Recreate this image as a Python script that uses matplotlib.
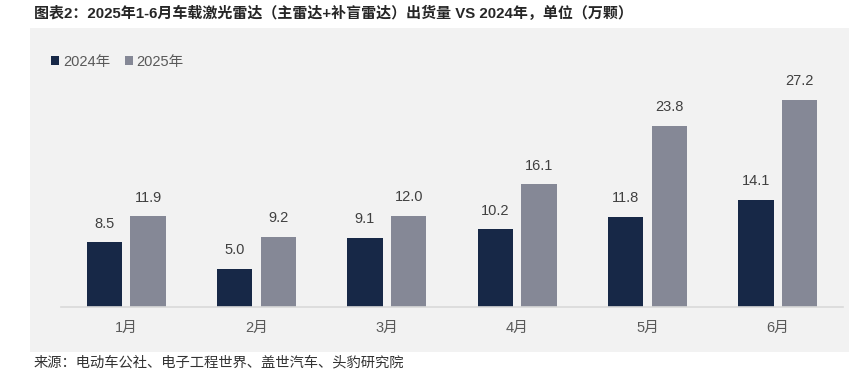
import numpy as np
import matplotlib.pyplot as plt
from matplotlib.patches import Rectangle

plt.rcParams['font.family'] = ['Liberation Sans', 'Noto Sans CJK SC', 'DejaVu Sans']

months = ['1月', '2月', '3月', '4月', '5月', '6月']
vals_2024 = [8.5, 5.0, 9.1, 10.2, 11.8, 14.1]
vals_2025 = [11.9, 9.2, 12.0, 16.1, 23.8, 27.2]
series_names = ['2024年', '2025年']

c_2024 = '#172847'
c_2025 = '#858896'
panel_bg = '#f2f2f2'

W, H = 849, 372
fig = plt.figure(figsize=(W / 100, H / 100), dpi=100)

# grey panel behind the chart
fig.patches.append(Rectangle((30 / W, 1 - 352 / H), 1 - 30 / W, 324 / H,
                             transform=fig.transFigure, facecolor=panel_bg,
                             edgecolor='none', zorder=-1))

ax = fig.add_axes([61 / W, 1 - 307 / H, (843 - 61) / W, (307 - 60) / H])
ax.set_facecolor('none')
ax.set_zorder(2)

x = np.arange(len(months))
bw = 0.27
off = 0.168
b1 = ax.bar(x - off, vals_2024, bw, color=c_2024, label=series_names[0], zorder=2)
b2 = ax.bar(x + off, vals_2025, bw, color=c_2025, label=series_names[1], zorder=2)

for bars in (b1, b2):
    for r in bars:
        ax.annotate('%.1f' % r.get_height(), (r.get_x() + r.get_width() / 2, r.get_height()),
                    xytext=(0, 13.5), textcoords='offset points', ha='center', va='center',
                    fontsize=10.5, color='#404040')

ax.set_xlim(-0.5, len(months) - 0.5)
ax.set_ylim(0, 247 / 7.61)
ax.set_xticks(x)
ax.set_xticklabels(months, fontsize=10.5, color='#595959')
ax.tick_params(axis='x', length=0, pad=10)
ax.set_yticks([])
for s in ['top', 'right', 'left']:
    ax.spines[s].set_visible(False)
ax.spines['bottom'].set_color('#d9d9d9')
ax.spines['bottom'].set_linewidth(1.2)

leg = fig.legend(handles=[b1, b2], loc='center left', bbox_to_anchor=(44 / W, 1 - 62 / H),
                 ncol=2, frameon=False, fontsize=10.5, handlelength=0.55, handleheight=0.55,
                 handletextpad=0.25, columnspacing=1.0, borderpad=0)
for t in leg.get_texts():
    t.set_color('#595959')

fig.text(34 / W, 1 - 13 / H, '图表2：2025年1-6月车载激光雷达（主雷达+补盲雷达）出货量 VS 2024年，单位（万颗）',
         fontsize=10.8, fontweight='bold', color='#262626', va='center', ha='left')
fig.text(34 / W, 1 - 362 / H, '来源：电动车公社、电子工程世界、盖世汽车、头豹研究院',
         fontsize=10.3, color='#333333', va='center', ha='left')

fig.savefig('out.png', dpi=100)
